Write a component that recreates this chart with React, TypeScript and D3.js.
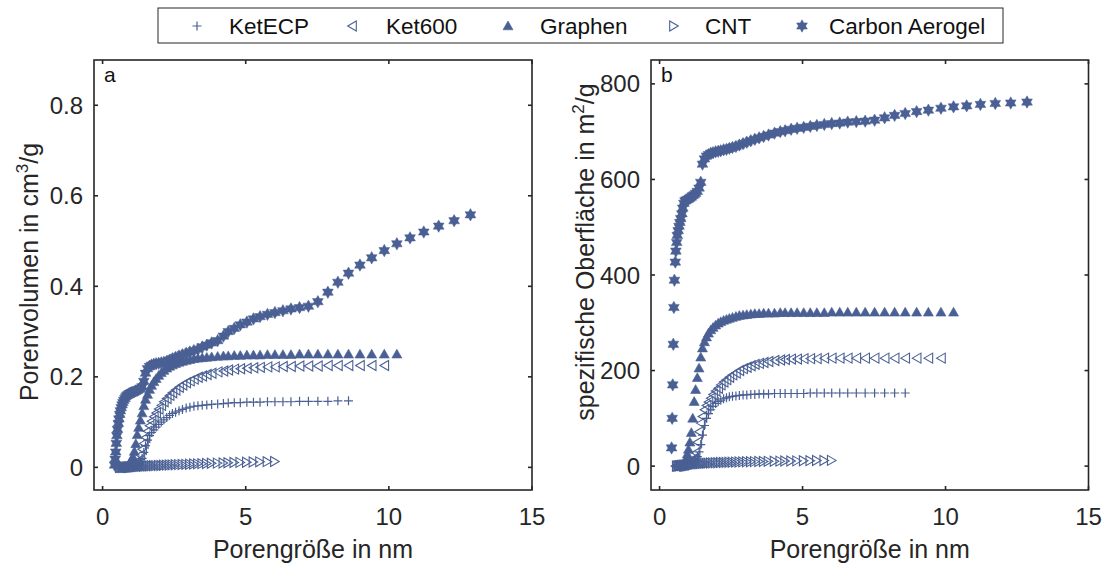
import React from 'react';
import * as d3 from 'd3';

// Shared pore-size grid (nm)
const poreSize = [
  0.42, 0.44, 0.46, 0.48, 0.50, 0.52, 0.55, 0.57, 0.60, 0.62,
  0.65, 0.68, 0.71, 0.74, 0.78, 0.81, 0.85, 0.89, 0.93, 0.97,
  1.01, 1.06, 1.11, 1.16, 1.21, 1.26, 1.32, 1.38, 1.44, 1.50,
  1.57, 1.64, 1.71, 1.79, 1.87, 1.96, 2.05, 2.14, 2.24, 2.34,
  2.44, 2.55, 2.67, 2.79, 2.92, 3.05, 3.19, 3.33, 3.48, 3.64,
  3.81, 4.02, 4.22, 4.39, 4.60, 4.81, 5.04, 5.27, 5.50, 5.76,
  6.02, 6.30, 6.58, 6.88, 7.19, 7.52, 7.87, 8.22, 8.59, 8.99,
  9.40, 9.84, 10.28, 10.74, 11.22, 11.74, 12.28, 12.85,
];

// Carbon Aerogel (starts at grid index 0)
const aerogelVolume = [
  0.005, 0.018, 0.034, 0.053, 0.070, 0.084, 0.097, 0.107, 0.117, 0.125,
  0.132, 0.138, 0.143, 0.148, 0.152, 0.156, 0.159, 0.161, 0.163, 0.164,
  0.165, 0.166, 0.167, 0.169, 0.170, 0.172, 0.174, 0.178, 0.190, 0.208,
  0.218, 0.223, 0.226, 0.228, 0.229, 0.230, 0.231, 0.232, 0.234, 0.237,
  0.240, 0.243, 0.246, 0.249, 0.252, 0.255, 0.258, 0.261, 0.266, 0.270,
  0.275, 0.280, 0.290, 0.300, 0.307, 0.315, 0.321, 0.328, 0.333, 0.338,
  0.342, 0.346, 0.350, 0.353, 0.356, 0.366, 0.387, 0.409, 0.429, 0.447,
  0.463, 0.479, 0.494, 0.507, 0.520, 0.533, 0.545, 0.558,
];
const aerogelArea = [
  38, 100, 170, 255, 332, 389, 427, 450, 468, 483,
  493, 502, 510, 518, 528, 540, 550, 555, 557, 558,
  559, 561, 563, 566, 568, 571, 575, 582, 594, 632,
  643, 649, 652, 655, 656, 658, 659, 660, 662, 663,
  665, 667, 669, 672, 675, 678, 681, 684, 687, 690,
  693, 697, 700, 702, 705, 707, 709, 711, 713, 715,
  717, 718, 720, 721, 722, 724, 729, 734, 738, 742,
  745, 749, 752, 754, 757, 759, 760, 762,
];

// Graphen (starts at grid index 16)
const graphenVolume = [
  0.000, 0.002, 0.007, 0.012, 0.016, 0.023, 0.035, 0.052, 0.072, 0.088,
  0.104, 0.120, 0.136, 0.150, 0.161, 0.172, 0.181, 0.189, 0.196, 0.203,
  0.209, 0.214, 0.219, 0.223, 0.226, 0.229, 0.232, 0.234, 0.236, 0.238,
  0.240, 0.241, 0.242, 0.243, 0.244, 0.245, 0.246, 0.246, 0.247, 0.247,
  0.248, 0.248, 0.248, 0.249, 0.249, 0.249, 0.249, 0.250, 0.250, 0.250,
  0.250, 0.250, 0.250, 0.250, 0.250, 0.250, 0.250,
];
const graphenArea = [
  0, 5, 15, 25, 35, 50, 70, 100, 135, 160,
  185, 205, 228, 247, 260, 270, 278, 285, 290, 295,
  299, 302, 305, 307, 309, 311, 313, 315, 316, 317,
  318, 319, 319, 320, 320, 320, 321, 321, 321, 321,
  321, 321, 321, 321, 322, 322, 322, 322, 322, 322,
  322, 322, 322, 322, 322, 322, 322,
];

// Ket600 (starts at grid index 6)
const ket600Volume = [
  0, 0, 0, 0, 0.0003, 0.0005, 0.0007, 0.001, 0.0012, 0.0015,
  0.002, 0.0025, 0.003, 0.0035, 0.004, 0.005, 0.006, 0.007, 0.009, 0.015,
  0.027, 0.040, 0.053, 0.066, 0.080, 0.092, 0.102, 0.112, 0.120, 0.129,
  0.137, 0.145, 0.152, 0.159, 0.165, 0.171, 0.177, 0.182, 0.187, 0.191,
  0.195, 0.199, 0.202, 0.205, 0.208, 0.211, 0.213, 0.215, 0.217, 0.218,
  0.219, 0.220, 0.221, 0.222, 0.222, 0.223, 0.223, 0.224, 0.224, 0.224,
  0.225, 0.225, 0.225, 0.225, 0.225, 0.225,
];
const ket600Area = [
  0, 0, 0, 0.5, 0.5, 1, 1, 1.5, 2, 2.5,
  3, 4, 5, 6, 7, 9, 11, 13, 16, 28,
  50, 72, 90, 104, 118, 127, 134, 142, 150, 157,
  163, 170, 176, 181, 186, 191, 195, 200, 204, 207,
  210, 213, 215, 217, 219, 221, 222, 223, 224, 224,
  225, 225, 225, 226, 226, 226, 226, 226, 226, 226,
  226, 226, 226, 226, 226, 226,
];

// KetECP (starts at grid index 10)
const ketEcpVolume = [
  0, 0, 0, 0.0003, 0.0005, 0.0007, 0.001, 0.0012, 0.0015, 0.002,
  0.0025, 0.003, 0.0035, 0.004, 0.005, 0.008, 0.012, 0.020, 0.033, 0.048,
  0.060, 0.070, 0.077, 0.083, 0.089, 0.095, 0.100, 0.105, 0.110, 0.115,
  0.119, 0.122, 0.125, 0.128, 0.131, 0.133, 0.135, 0.136, 0.137, 0.138,
  0.139, 0.140, 0.141, 0.142, 0.143, 0.143, 0.144, 0.144, 0.144, 0.145,
  0.145, 0.145, 0.145, 0.146, 0.146, 0.146, 0.146, 0.147, 0.147,
];
const ketEcpArea = [
  0, 0, 0.5, 0.5, 1, 1, 1.5, 2, 2.5, 3,
  4, 5, 6, 8, 10, 14, 20, 30, 45, 65,
  85, 100, 110, 118, 125, 131, 135, 138, 141, 143,
  145, 146, 147, 148, 149, 149, 150, 150, 151, 151,
  151, 152, 152, 152, 152, 152, 152, 153, 153, 153,
  153, 153, 153, 153, 153, 153, 153, 153, 153,
];

// CNT (starts at grid index 8)
const cntVolume = [
  0, 0, 0, 0.0001, 0.0002, 0.0003, 0.0004, 0.0005, 0.0006, 0.0007,
  0.0008, 0.0009, 0.001, 0.0012, 0.0014, 0.0016, 0.0018, 0.002, 0.0022, 0.0024,
  0.0026, 0.0028, 0.003, 0.0032, 0.0034, 0.0036, 0.0038, 0.004, 0.0043, 0.0046,
  0.0049, 0.0052, 0.0055, 0.0058, 0.0061, 0.0064, 0.0067, 0.007, 0.0074, 0.0078,
  0.0082, 0.0086, 0.009, 0.0094, 0.0098, 0.0102, 0.0106, 0.011, 0.0114, 0.0118,
  0.0122, 0.0126, 0.013,
];
const cntArea = [
  0, 0, 0.3, 0.5, 0.8, 1, 1.2, 1.5, 1.8, 2,
  2.3, 2.6, 2.9, 3.2, 3.5, 3.8, 4.1, 4.4, 4.7, 5,
  5.3, 5.5, 5.8, 6, 6.3, 6.5, 6.8, 7, 7.2, 7.4,
  7.6, 7.8, 8, 8.2, 8.4, 8.6, 8.8, 9, 9.2, 9.4,
  9.6, 9.8, 10, 10.2, 10.4, 10.6, 10.8, 11, 11.2, 11.4,
  11.6, 11.8, 12,
];

const seriesNames = ['KetECP', 'Ket600', 'Graphen', 'CNT', 'Carbon Aerogel'];
const xTicks = [0, 5, 10, 15];
const volumeTicks = [0, 0.2, 0.4, 0.6, 0.8];
const areaTicks = [0, 200, 400, 600, 800];

type MarkerType = 'plus' | 'left' | 'up' | 'right' | 'hexagram';

const series: { name: string; marker: MarkerType; start: number; volume: number[]; area: number[] }[] = [
  { name: seriesNames[0], marker: 'plus', start: 10, volume: ketEcpVolume, area: ketEcpArea },
  { name: seriesNames[1], marker: 'left', start: 6, volume: ket600Volume, area: ket600Area },
  { name: seriesNames[2], marker: 'up', start: 16, volume: graphenVolume, area: graphenArea },
  { name: seriesNames[3], marker: 'right', start: 8, volume: cntVolume, area: cntArea },
  { name: seriesNames[4], marker: 'hexagram', start: 0, volume: aerogelVolume, area: aerogelArea },
];

const COLOR = '#4A6094';
const AXIS = '#262626';
const FONT = '"Liberation Sans", Arial, Helvetica, sans-serif';

function hexagramPath(R: number): string {
  const r = R / Math.sqrt(3);
  const pts: string[] = [];
  for (let k = 0; k < 12; k++) {
    const a = (-90 + k * 30) * Math.PI / 180;
    const rad = k % 2 === 0 ? R : r;
    pts.push(`${(rad * Math.cos(a)).toFixed(2)},${(rad * Math.sin(a)).toFixed(2)}`);
  }
  return 'M' + pts.join('L') + 'Z';
}
const HEX = hexagramPath(6.2);

function Marker({ type, x, y }: { type: MarkerType; x: number; y: number }) {
  const t = `translate(${x},${y})`;
  switch (type) {
    case 'plus':
      return <path transform={t} d="M-4.5,0H4.5M0,-4.5V4.5" stroke={COLOR} strokeWidth={1.2} fill="none" />;
    case 'left':
      return <path transform={t} d="M-4.3,0L4.3,-5L4.3,5Z" stroke={COLOR} strokeWidth={1.1} fill="none" />;
    case 'right':
      return <path transform={t} d="M4.3,0L-4.3,-5L-4.3,5Z" stroke={COLOR} strokeWidth={1.1} fill="none" />;
    case 'up':
      return <path transform={t} d="M0,-5L5,3.8L-5,3.8Z" fill={COLOR} stroke={COLOR} strokeWidth={0.6} />;
    case 'hexagram':
      return <path transform={t} d={HEX} fill={COLOR} stroke={COLOR} strokeWidth={0.5} />;
  }
  return null;
}

type PanelProps = {
  left: number; right: number; top: number; bottom: number;
  yDomain: [number, number]; yTicks: number[]; field: 'volume' | 'area';
  letter: string; title: React.ReactNode; titleX: number; titleY: number;
};

function Panel(p: PanelProps) {
  const x = d3.scaleLinear().domain([-0.3, 15]).range([p.left, p.right]);
  const y = d3.scaleLinear().domain(p.yDomain).range([p.bottom, p.top]);
  const tl = 4;
  return (
    <g>
      {series.map((s) => {
        const xs = poreSize.slice(s.start, s.start + s[p.field].length);
        return (
          <g key={s.name}>
            {s[p.field].map((v, i) => (
              <Marker key={i} type={s.marker} x={x(xs[i])} y={y(v)} />
            ))}
          </g>
        );
      })}
      <rect x={p.left} y={p.top} width={p.right - p.left} height={p.bottom - p.top}
        fill="none" stroke={AXIS} strokeWidth={1.6} />
      {xTicks.map((t) => (
        <g key={'x' + t}>
          <line x1={x(t)} x2={x(t)} y1={p.bottom} y2={p.bottom - tl} stroke={AXIS} strokeWidth={1.6} />
          <line x1={x(t)} x2={x(t)} y1={p.top} y2={p.top + tl} stroke={AXIS} strokeWidth={1.6} />
          <text x={x(t)} y={p.bottom + 35} textAnchor="middle" fontSize={24} fill={AXIS} fontFamily={FONT}>{t}</text>
        </g>
      ))}
      {p.yTicks.map((t) => (
        <g key={'y' + t}>
          <line x1={p.left} x2={p.left + tl} y1={y(t)} y2={y(t)} stroke={AXIS} strokeWidth={1.6} />
          <line x1={p.right} x2={p.right - tl} y1={y(t)} y2={y(t)} stroke={AXIS} strokeWidth={1.6} />
          <text x={p.left - 11} y={y(t) + 8.5} textAnchor="end" fontSize={24} fill={AXIS} fontFamily={FONT}>{String(t)}</text>
        </g>
      ))}
      <text x={p.left + 10} y={p.top + 22} fontSize={21} fill="#111" fontFamily={FONT}>{p.letter}</text>
      <text x={(p.left + p.right) / 2} y={558} textAnchor="middle" fontSize={25} fill={AXIS} fontFamily={FONT}>Porengröße in nm</text>
      <text transform={`translate(${p.titleX},${p.titleY}) rotate(-90)`} textAnchor="middle" fontSize={25} fill={AXIS} fontFamily={FONT}>
        {p.title}
      </text>
    </g>
  );
}

function Legend() {
  const markerX = [197, 352, 508, 674, 802];
  const textX = [229, 386, 540, 705, 829];
  return (
    <g>
      <rect x={158} y={8} width={845} height={35} fill="#fff" stroke={AXIS} strokeWidth={1} />
      {series.map((s, i) => (
        <g key={s.name}>
          <Marker type={s.marker} x={markerX[i]} y={26} />
          <text x={textX[i]} y={34} fontSize={22.5} fill="#111" fontFamily={FONT}>{s.name}</text>
        </g>
      ))}
    </g>
  );
}

export default function App() {
  return (
    <svg width={1113} height={567} style={{ position: 'absolute', left: 0, top: 0, background: '#fff' }}>
      <rect width={1113} height={567} fill="#fff" />
      <Panel left={94} right={532} top={60} bottom={490} yDomain={[-0.05, 0.9]} yTicks={volumeTicks}
        field="volume" letter="a" titleX={38} titleY={272}
        title={<>Porenvolumen in cm<tspan dy={-10} fontSize={17}>3</tspan><tspan dy={10}>/g</tspan></>} />
      <Panel left={651} right={1088.5} top={60} bottom={490} yDomain={[-50, 850]} yTicks={areaTicks}
        field="area" letter="b" titleX={594} titleY={252}
        title={<>spezifische Oberfläche in m<tspan dy={-10} fontSize={17}>2</tspan><tspan dy={10}>/g</tspan></>} />
      <Legend />
    </svg>
  );
}
